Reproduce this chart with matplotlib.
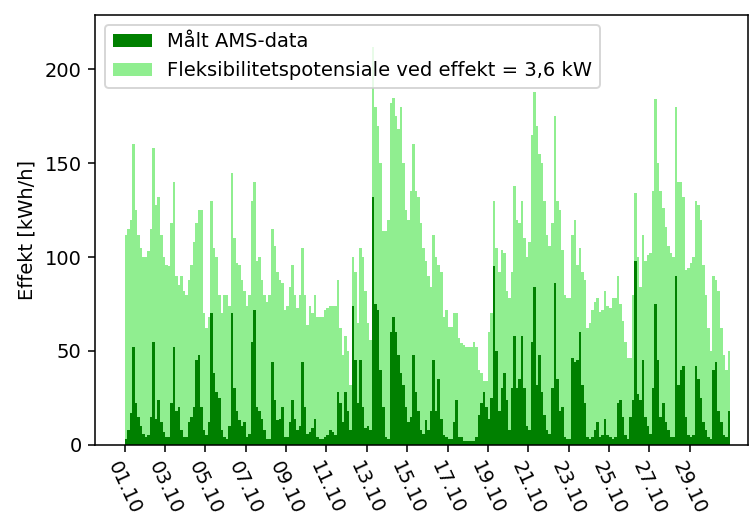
"""Measured AMS load vs. flexibility potential, October (3-hour bins)."""
import matplotlib.pyplot as plt
import numpy as np

# 8 bins per day, 01.10 - 30.10
flex_potential = [
    112, 115, 120, 160, 125, 112, 105, 100,
    100, 103, 115, 158, 128, 132, 112, 100,
    96, 95, 118, 140, 90, 85, 90, 82,
    80, 88, 96, 108, 118, 125, 125, 70,
    62, 68, 130, 105, 100, 80, 70, 80,
    80, 74, 145, 110, 97, 96, 88, 82,
    74, 80, 130, 140, 98, 100, 88, 80,
    76, 80, 115, 106, 92, 88, 86, 72,
    74, 84, 96, 80, 73, 80, 105, 80,
    64, 74, 70, 80, 68, 68, 68, 72,
    73, 74, 74, 74, 88, 62, 48, 58,
    50, 32, 100, 92, 65, 105, 100, 82,
    65, 56, 212, 180, 170, 150, 114, 114,
    120, 182, 185, 175, 168, 180, 150, 125,
    120, 135, 160, 135, 132, 118, 105, 98,
    90, 84, 112, 100, 96, 92, 68, 72,
    63, 63, 70, 70, 57, 54, 53, 52,
    52, 52, 55, 52, 40, 38, 34, 34,
    60, 70, 130, 105, 92, 104, 102, 82,
    78, 92, 138, 120, 118, 130, 110, 100,
    108, 165, 188, 170, 155, 150, 130, 112,
    106, 118, 175, 130, 125, 104, 80, 78,
    78, 112, 120, 96, 105, 92, 88, 62,
    65, 72, 76, 78, 71, 72, 82, 74,
    73, 78, 78, 90, 75, 66, 55, 46,
    46, 80, 134, 100, 84, 112, 98, 101,
    102, 135, 184, 150, 135, 126, 116, 106,
    102, 100, 180, 140, 140, 132, 93, 94,
    97, 100, 130, 128, 120, 96, 80, 62,
    50, 90, 88, 82, 62, 48, 40, 50,
]
ams_measured = [
    3, 8, 17, 52, 22, 15, 10, 6,
    4, 5, 15, 55, 14, 24, 12, 7,
    4, 4, 22, 52, 18, 20, 8, 4,
    4, 12, 15, 20, 45, 48, 20, 8,
    5, 12, 70, 38, 28, 25, 8, 4,
    3, 10, 70, 30, 18, 13, 10, 12,
    4, 6, 55, 72, 20, 18, 14, 8,
    3, 3, 44, 24, 13, 14, 20, 4,
    4, 12, 24, 14, 8, 10, 44, 20,
    6, 7, 9, 14, 4, 3, 3, 4,
    5, 8, 7, 5, 28, 22, 12, 28,
    18, 8, 74, 45, 22, 45, 20, 9,
    10, 8, 132, 75, 72, 40, 20, 4,
    3, 60, 68, 60, 48, 38, 32, 20,
    12, 15, 48, 28, 18, 8, 6, 13,
    8, 18, 45, 18, 35, 14, 5, 4,
    3, 3, 12, 24, 4, 4, 2, 2,
    2, 2, 2, 4, 16, 22, 28, 20,
    14, 25, 95, 50, 18, 30, 38, 24,
    8, 30, 58, 30, 35, 58, 30, 10,
    8, 55, 84, 32, 48, 28, 16, 8,
    6, 30, 86, 35, 18, 20, 4, 3,
    3, 46, 44, 45, 60, 32, 22, 4,
    3, 4, 8, 12, 4, 5, 14, 5,
    4, 3, 4, 22, 24, 15, 5, 3,
    15, 24, 98, 27, 24, 45, 15, 10,
    6, 30, 75, 45, 15, 22, 12, 8,
    4, 4, 90, 32, 40, 42, 15, 5,
    4, 5, 42, 35, 25, 12, 8, 4,
    3, 40, 44, 18, 12, 5, 4, 18,
]
tick_labels = ["01.10", "03.10", "05.10", "07.10", "09.10", "11.10", "13.10", "15.10",
               "17.10", "19.10", "21.10", "23.10", "25.10", "27.10", "29.10"]
bin_hours = 3

hours = np.arange(len(flex_potential)) * bin_hours

# small figure at high dpi -> text scaled like the original export
fig, ax = plt.subplots(figsize=(750 / 140, 516 / 140), dpi=140)
fig.subplots_adjust(left=0.127, right=0.997, bottom=0.138, top=0.971)
light = ax.bar(hours, flex_potential, width=bin_hours, align="edge",
               color="lightgreen", linewidth=0)
dark = ax.bar(hours, ams_measured, width=bin_hours, align="edge",
              color="green", linewidth=0)
ax.legend([dark, light],
          ["Målt AMS-data", "Fleksibilitetspotensiale ved effekt = 3,6 kW"],
          loc="upper left")
ax.set_xticks(np.arange(len(tick_labels)) * 48)
ax.set_xticklabels(tick_labels, rotation=-65)
ax.set_xlim(-35, 741)
ax.set_ylim(0, 229)
ax.set_ylabel("Effekt [kWh/h]")
fig.savefig("out.png")
